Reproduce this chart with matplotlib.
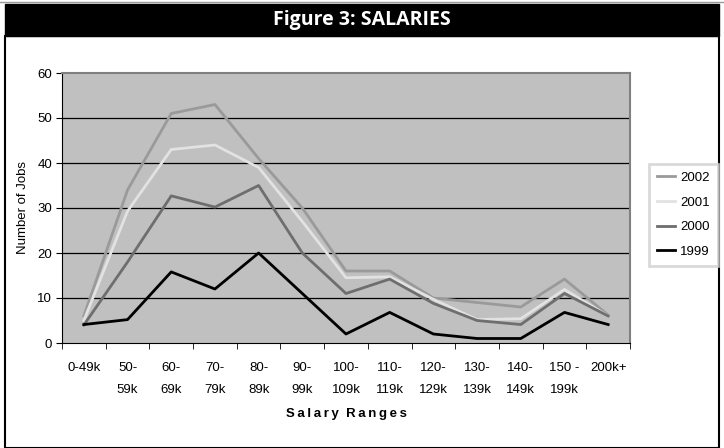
import matplotlib.pyplot as plt
from matplotlib.patches import Rectangle
from matplotlib.lines import Line2D

plt.rcParams['font.family'] = ['Liberation Sans', 'DejaVu Sans']

categories = ['0-49k', '50-\n59k', '60-\n69k', '70-\n79k', '80-\n89k', '90-\n99k',
              '100-\n109k', '110-\n119k', '120-\n129k', '130-\n139k', '140-\n149k',
              '150 -\n199k', '200k+']
jobs_2002 = [6, 34, 51, 53, 41, 30, 16, 16, 10, 9, 8, 14.2, 6.2]
jobs_2001 = [5, 29.3, 43, 44, 39, 27, 14.5, 14.7, 9.7, 5.2, 5.4, 11.9, 6]
jobs_2000 = [4, 18, 32.7, 30.2, 35, 20, 11, 14.2, 8.8, 5, 4.1, 11, 6]
jobs_1999 = [4.1, 5.2, 15.8, 12, 20, 11, 2, 6.8, 2, 1, 1, 6.8, 4.1]

W, H = 724, 448
fig = plt.figure(figsize=(W / 100, H / 100), dpi=100)

# frame + title bar
fig.patches.append(Rectangle((5 / W, 0), 714 / W, (H - 36) / H, transform=fig.transFigure,
                             fill=False, edgecolor='black', linewidth=1.5))
fig.patches.append(Rectangle((5 / W, 1 - 36 / H), 714 / W, 32 / H, transform=fig.transFigure,
                             facecolor='black', edgecolor='black'))
fig.lines.append(Line2D([0, 1], [1 - 2 / H, 1 - 2 / H], transform=fig.transFigure,
                        color='#999999', linewidth=1))
fig.text(362 / W, 1 - 20 / H, 'Figure 3: SALARIES', color='white', fontsize=14,
         fontweight='bold', family=['Open Sans', 'DejaVu Sans'], ha='center', va='center')

ax = fig.add_axes([62 / W, 1 - 343 / H, 568 / W, 270 / H])
ax.set_facecolor('#C0C0C0')
x = range(len(categories))
ax.plot(x, jobs_2002, color='#9A9A9A', lw=2, label='2002')
ax.plot(x, jobs_2001, color='#E2E2E2', lw=2, label='2001')
ax.plot(x, jobs_2000, color='#6E6E6E', lw=2, label='2000')
ax.plot(x, jobs_1999, color='black', lw=2, label='1999')

ax.set_xlim(-0.5, 12.5)
ax.set_ylim(0, 60)
ax.set_yticks(range(0, 61, 10))
for yv in range(10, 60, 10):
    ax.axhline(yv, color='black', lw=0.9, zorder=1)
ax.set_xticks(list(x))
ax.set_xticklabels(categories, fontsize=9.5, linespacing=2.05)
ax.set_xticks([i - 0.5 for i in range(14)], minor=True)
ax.tick_params(axis='x', which='major', length=0, pad=14)
ax.tick_params(axis='x', which='minor', length=4, direction='out')
ax.tick_params(axis='y', length=4, labelsize=9.5, pad=3)
ax.spines['top'].set_color('#808080')
ax.spines['right'].set_color('#808080')
ax.spines['top'].set_linewidth(1.5)
ax.spines['right'].set_linewidth(1.5)

ax.set_ylabel('Number of Jobs', fontsize=9.5, labelpad=6)
ax.set_xlabel('S\u2009a\u2009l\u2009a\u2009r\u2009y  R\u2009a\u2009n\u2009g\u2009e\u2009s',
              fontsize=9.5, fontweight='bold', labelpad=9)

leg = fig.legend(loc='upper left', bbox_to_anchor=(642 / W, 1 - 157 / H), fontsize=9.5,
                 handlelength=1.4, labelspacing=0.95, handletextpad=0.4,
                 fancybox=False, borderpad=0.6)
leg.get_frame().set_edgecolor('#D0D0D0')
leg.get_frame().set_linewidth(2)

fig.savefig('out.png', dpi=100)
